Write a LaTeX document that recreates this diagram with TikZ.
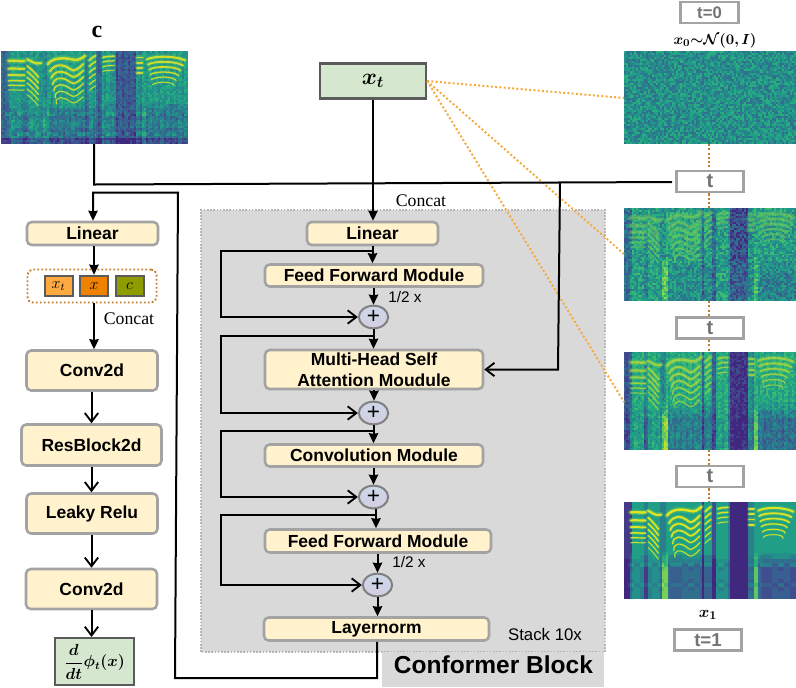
\documentclass[tikz,border=0pt]{standalone}
\usepackage{amsmath,bm}
\usepackage{fontspec}
\setmainfont{Liberation Sans}
\newfontfamily\serifcat{Liberation Serif}
\usetikzlibrary{arrows.meta,shapes.geometric,calc}
% palette
\definecolor{pal0}{HTML}{40287F}\definecolor{pal1}{HTML}{443A88}\definecolor{pal2}{HTML}{3E4E8F}\definecolor{pal3}{HTML}{375F8F}
\definecolor{pal4}{HTML}{30708E}\definecolor{pal5}{HTML}{2A7F8D}\definecolor{pal6}{HTML}{24908C}\definecolor{pal7}{HTML}{209F86}
\definecolor{pal8}{HTML}{28AE7E}\definecolor{pal9}{HTML}{3DBB70}\definecolor{pal10}{HTML}{5AC864}\definecolor{pal11}{HTML}{7AD151}
\definecolor{pal12}{HTML}{9BD93C}\definecolor{pal13}{HTML}{BDDF26}\definecolor{pal14}{HTML}{DDE318}\definecolor{pal15}{HTML}{F0E51C}
\definecolor{boxfill}{HTML}{FFF2CC}\definecolor{boxedge}{HTML}{A3A3A3}\definecolor{greenfill}{HTML}{D5E8CF}\definecolor{darkedge}{HTML}{5B5B5B}
\definecolor{panel}{HTML}{D9D9D9}\definecolor{orangedot}{HTML}{F7A93E}\definecolor{browndot}{HTML}{C27C2A}
\definecolor{harmY}{HTML}{E9E51E}
\definecolor{sbA}{HTML}{FFAA40}\definecolor{sbB}{HTML}{EF8200}\definecolor{sbC}{HTML}{8F9C00}
\definecolor{plusT}{HTML}{CBD8E8}\definecolor{plusB}{HTML}{D5CDE2}
\newdimen\sgx\newdimen\sgy\newdimen\sgw\newdimen\sgh
\newcount\sgv\newcount\sgt\newcount\sglv
\def\band#1#2{((\uu>#1)*(\uu<#2))}
\def\featU{(-4*\band{0}{0.045}-2*\band{0.12}{0.14}-2*\band{0.215}{0.25}-6*\band{0.452}{0.462}-5*\band{0.51}{0.54}-6*\band{0.615}{0.725}+2*\band{0.045}{0.6}+2*\band{0.75}{1.01})}
\def\featL{(-4*\band{0}{0.04}+2*\band{0.045}{0.12}-2*\band{0.12}{0.14}+2*\band{0.14}{0.215}+7*\band{0.225}{0.255}-5*\band{0.452}{0.462}-5*\band{0.51}{0.54}-6*\band{0.615}{0.725}+6*\band{0.75}{0.78}-1*\band{0.8}{1.01}+2*\band{0.54}{0.61})}
% parameters: \sB base, \sCU \sCL contrast %, \sN noise, \sM mottle %, \sBot permille, \sO harmonic opacity
\newcommand{\specgram}[4]{%
 \begin{scope}
 \clip (#1,#2) rectangle ++(#3,#4);
 \pgfmathtruncatemacro\nx{round(#3/2)}\pgfmathtruncatemacro\ny{round(#4/2)}
 \pgfmathtruncatemacro\nxm{\nx-1}\pgfmathtruncatemacro\nym{\ny-1}
 \pgfmathsetlength\sgx{#1*0.75pt}\pgfmathsetlength\sgy{#2*0.75pt}
 \pgfmathsetlength\sgw{#3*0.75pt/\nx}\pgfmathsetlength\sgh{#4*0.75pt/\ny}
 \foreach \i in {0,...,\nxm}{%
  \pgfmathsetmacro\uu{(\i+0.5)/\nx}%
  \pgfmathtruncatemacro\fU{round(\sCU*\featU)}%
  \pgfmathtruncatemacro\fL{round(\sCL*\featL)}%
  \edef\cs{\the\numexpr(\i*\i*7+\i*13)\relax}%
  \edef\cs{\the\numexpr\cs-3*(\cs/3)-1\relax}%
  \foreach \j in {0,...,\nym}{%
   \pgfmathrandominteger\rr{-\sN}{\sN}%
   \sgv=\numexpr1000*(2*\j+1)/(2*\ny)\relax
   \sgt=\numexpr(\sgv-500)/2\relax
   \ifnum\sgt<0 \sgt=0 \fi\ifnum\sgt>100 \sgt=100 \fi
   \sglv=\numexpr\sB+(\fU*(100-\sgt)+\fL*\sgt)/10000+\rr+\cs*\sM/100\relax
   \edef\pa{\the\numexpr\i/3\relax}\edef\pb{\the\numexpr\j/2\relax}%
   \edef\aa{\the\numexpr\pa*\pa*11+\pb*\pb*7+\pa*\pb*5+\pa*3+\pb\relax}%
   \advance\sglv by \numexpr(\aa-5*(\aa/5)-2)*\sM*\sgt/10000\relax
   \ifnum\sgv>\sBot \advance\sglv by -3 \fi
   \ifnum\sglv<0 \sglv=0 \fi\ifnum\sglv>15 \sglv=15 \fi
   \pgfsetfillcolor{pal\the\sglv}%
   \pgfpathrectanglecorners{\pgfqpoint{\dimexpr\sgx+\i\sgw\relax}{\dimexpr-\sgy-\j\sgh\relax}}{\pgfqpoint{\dimexpr\sgx+\i\sgw+\sgw+0.3pt\relax}{\dimexpr-\sgy-\j\sgh-\sgh-0.3pt\relax}}%
   \pgfusepath{fill}%
  }%
 }%
 \ifnum\sO>0
 \begin{scope}[shift={(#1,#2)},x=#3*0.75pt,y=-#4*0.75pt,line cap=round,line join=round]
  \begin{scope}[opacity=0.45,color=pal10]\def\hk{1.9}\harmonics\end{scope}
  \begin{scope}[opacity=0.\sO,color=harmY]\def\hk{0.85}\harmonics\end{scope}
 \end{scope}
 \fi
 \end{scope}}
\newcommand{\harmonics}{%
  % group A
  \foreach \v/\w in {0.107/2.2,0.19/1.9,0.26/1.7,0.32/1.3,0.37/1.0,0.42/0.7}{%
    \draw[line width=\hk*\w pt] (0.04,\v) .. controls (0.07,\v-0.008) and (0.1,\v+0.006) .. (0.125,\v);}
  % group B
  \draw[line width=\hk*2pt] (0.14,0.09) .. controls (0.16,0.1) and (0.18,0.15) .. (0.215,0.13);
  \foreach \k/\w in {0/1.5,1/1.3,2/1.2,3/1.0,4/0.8,5/0.6}{%
    \pgfmathsetmacro\a{0.16+0.062*\k}
    \draw[line width=\hk*\w pt] (0.14,\a) .. controls (0.16,\a+0.03) and (0.18,\a+0.07) .. (0.2,\a+0.12);}
  % group C
  \draw[line width=\hk*2.2pt] (0.25,0.14) .. controls (0.28,0.07) and (0.33,0.07) .. (0.38,0.09) .. controls (0.41,0.11) and (0.43,0.08) .. (0.45,0.05);
  \foreach \k/\w in {1/1.8,2/1.6,3/1.4,4/1.1,5/0.9,6/0.7}{%
    \pgfmathsetmacro\a{0.08+0.07*\k}
    \pgfmathsetmacro\l{0.255+0.007*\k}
    \draw[line width=\hk*\w pt] (\l,\a+0.07) .. controls (0.285,\a-0.01) and (0.33,\a-0.02) .. (0.375,\a+0.05) .. controls (0.39,\a+0.08) and (0.42,\a+0.03) .. (0.44,\a-0.01);}
  % group D
  \foreach \k/\w in {0/1.6,1/1.4,2/1.2,3/1,4/0.9,5/0.7}{%
    \pgfmathsetmacro\a{0.1+0.065*\k}
    \draw[line width=\hk*\w pt] (0.472,\a) .. controls (0.48,\a-0.02) and (0.49,\a-0.03) .. (0.505,\a-0.05);}
  \foreach \k/\w in {0/1.4,1/1.1,2/0.9,3/0.7}{%
    \pgfmathsetmacro\a{0.07+0.05*\k}
    \draw[line width=\hk*\w pt] (0.545,\a) .. controls (0.56,\a-0.015) and (0.58,\a-0.01) .. (0.605,\a-0.015);}
  % group E
  \foreach \k in {0,1,2,3}{%
    \pgfmathsetmacro\a{0.07+0.055*\k}
    \draw[line width=\hk*1.7pt] (0.728,\a) -- (0.755,\a);}
  \foreach \k/\w in {0/1.8,1/1.6,2/1.4,3/1.1,4/0.9,5/0.7}{%
    \pgfmathsetmacro\a{0.055*\k}
    \pgfmathsetmacro\l{0.78+0.006*\k}
    \pgfmathsetmacro\r{0.985-0.012*\k}
    \draw[line width=\hk*\w pt] (\l,0.09+\a) .. controls (0.82,0.05+\a) and (0.93,0.05+\a) .. (\r,0.1+\a);}
}
\tikzset{
 boxnode/.style={draw=boxedge,line width=1.9pt,fill=boxfill,rounded corners=3.5pt,inner sep=0pt,align=center,font=\fontsize{13.1}{15.5}\selectfont\bfseries},
 sz/.style 2 args={minimum width=#1*0.75pt,minimum height=#2*0.75pt},
 greennode/.style={draw=darkedge,line width=1.6pt,fill=greenfill,inner sep=0pt},
 smallbox/.style={draw=darkedge,line width=1.5pt,inner sep=0pt,minimum width=21pt,minimum height=15.5pt,font=\fontsize{11.5}{12}\selectfont},
 plusnode/.style={ellipse,draw=gray,line width=1.5pt,top color=plusT,bottom color=plusB,inner sep=0pt,minimum width=22pt,minimum height=17pt,font=\fontsize{17}{17}\selectfont},
 tnode/.style={draw=boxedge,line width=2.2pt,fill=white,inner sep=0pt,text=black!55,font=\bfseries},
 conn/.style={line width=1.5pt,black},
 arr/.style={conn,-{Stealth[length=7.5pt,width=7pt,inset=0.5pt]}},
 opn/.style={conn,-{Straight Barb[length=6.5pt,width=10pt,line width=1.4pt]}},
 odot/.style={orangedot,line width=1.5pt,dash pattern=on 1.5pt off 1.7pt},
 bdot/.style={browndot,line width=1.5pt,dash pattern=on 1.6pt off 1.6pt},
 txt/.style={inner sep=0pt},
}
\begin{document}
\begin{tikzpicture}[x=0.75pt,y=-0.75pt]
\useasboundingbox (0,0) rectangle (796,687);
\pgfmathsetseed{4242}
% panel
\fill[panel] (201,210) rectangle (605,652);
\draw[boxedge!80,line width=1pt,dash pattern=on 1.2pt off 1.2pt] (201,652) -- (201,210) -- (605,210) -- (605,652) -- cycle;
\fill[panel] (382,652) rectangle (604,687);
% spectrograms
\def\sB{6}\def\sCU{55}\def\sCL{30}\def\sN{1}\def\sM{40}\def\sBot{935}\def\sO{85}
\specgram{1}{51}{187}{93}
\def\sB{6}\def\sCU{0}\def\sCL{0}\def\sN{2}\def\sM{0}\def\sBot{1001}\def\sO{0}
\specgram{624}{51}{172}{93}
\def\sB{6}\def\sCU{60}\def\sCL{55}\def\sN{2}\def\sM{0}\def\sBot{1001}\def\sO{18}
\specgram{624}{208}{172}{93}
\def\sB{6}\def\sCU{85}\def\sCL{85}\def\sN{1}\def\sM{30}\def\sBot{1001}\def\sO{55}
\specgram{624}{352}{172}{98}
\def\sB{6}\def\sCU{100}\def\sCL{100}\def\sN{0}\def\sM{60}\def\sBot{1001}\def\sO{95}
\specgram{624}{502}{172}{97}
% text labels
\node[txt,font=\fontsize{18}{18}\selectfont\serifcat\bfseries] (clab) at (97,32) {c};
\node[txt,font=\fontsize{10.8}{12}\selectfont] (x0lab) at (715,41) {$\bm{x_0{\sim}\mathcal{N}(0,I)}$};
\node[txt,font=\fontsize{12.5}{12}\selectfont] (x1lab) at (708,615) {$\bm{x_1}$};
% left column
\node[boxnode,sz={131}{23}] (llin) at (92.5,233.5) {Linear};
\node[draw=browndot,line width=1.4pt,dash pattern=on 1.4pt off 1.6pt,rounded corners=4pt,sz={129}{33}] (dots) at (92,286) {};
\node[smallbox,fill=sbA] (sxt) at (58.5,286) {$x_t$};
\node[smallbox,fill=sbB] (sx) at (94,286) {$x$};
\node[smallbox,fill=sbC] (sc) at (129.5,286) {$c$};
\node[boxnode,sz={131}{40}] (conva) at (92,370.5) {Conv2d};
\node[boxnode,sz={140}{41}] (res) at (91.5,445) {ResBlock2d};
\node[boxnode,sz={131}{40}] (leaky) at (92,513.5) {Leaky Relu};
\node[boxnode,sz={131}{40}] (convb) at (91.5,589) {Conv2d};
\node[greennode,sz={79}{47},font=\fontsize{11.5}{14}\selectfont] (out) at (94.5,661.5) {$\bm{\dfrac{d}{dt}\phi_t(x)}$};
\node[txt,font=\fontsize{13.3}{14}\selectfont\serifcat] (cc1) at (129,319) {Concat};
% centre column
\node[greennode,sz={106}{35},font=\fontsize{17}{18}\selectfont] (xt) at (373,81) {$\bm{x_t}$};
\node[txt,font=\fontsize{13.3}{14}\selectfont\serifcat] (cc2) at (421,201) {Concat};
\node[boxnode,sz={131}{23}] (lin) at (372.5,233.5) {Linear};
\node[boxnode,sz={218}{22}] (ff1) at (374,275.5) {Feed Forward Module};
\node[plusnode] (p1) at (373.5,317) {+};
\node[boxnode,sz={218}{39}] (mhsa) at (374,369.5) {Multi-Head Self\\Attention Moudule};
\node[plusnode] (p2) at (373.5,413) {+};
\node[boxnode,sz={218}{22}] (cm) at (374,455.5) {Convolution Module};
\node[plusnode] (p3) at (373.5,497) {+};
\node[boxnode,sz={226}{23}] (ff2) at (378,541) {Feed Forward Module};
\node[plusnode] (p4) at (377.5,585) {+};
\node[boxnode,sz={225}{23}] (ln) at (376.5,629) {Layernorm};
\node[txt,font=\fontsize{11.5}{12}\selectfont] (h1) at (405,297) {1/2 x};
\node[txt,font=\fontsize{11.5}{12}\selectfont] (h2) at (409,562) {1/2 x};
\node[txt,font=\fontsize{12.6}{12}\selectfont] (stk) at (545,634) {Stack 10x};
\node[txt,font=\fontsize{18.4}{18}\selectfont\bfseries] (cb) at (493.5,664.5) {Conformer Block};
% t boxes
\node[tnode,sz={58}{21},font=\fontsize{12.5}{14}\selectfont\bfseries] (t0) at (709.5,12.5) {t=0};
\node[tnode,sz={67}{21},font=\fontsize{15}{15}\selectfont\bfseries] (ta) at (710,181.5) {t};
\node[tnode,sz={67}{21},font=\fontsize{15}{15}\selectfont\bfseries] (tb) at (710,328) {t};
\node[tnode,sz={67}{21},font=\fontsize{15}{15}\selectfont\bfseries] (tc) at (710,476.5) {t};
\node[tnode,sz={67}{21},font=\fontsize{14}{14}\selectfont\bfseries] (t1) at (708,640) {t=1};
% named image anchors
\coordinate (imgc) at (94,144);
\coordinate (img0w) at (624,98);
\coordinate (img1w) at (624,254);
\coordinate (img2w) at (624,402);
\coordinate (i0s) at (709,144);\coordinate (i1n) at (709,208);\coordinate (i1s) at (709,301);
\coordinate (i2n) at (709,352);\coordinate (i2s) at (709,450);\coordinate (i3n) at (709,502);
% dotted links
\draw[odot] (xt.east) -- (img0w);
\draw[odot] (xt.east) -- (img1w);
\draw[odot] (xt.east) -- (img2w);
\draw[bdot] (i0s) -- (i0s |- ta.north);
\draw[bdot] (i1n |- ta.south) -- (i1n);
\draw[bdot] (i1s) -- (i1s |- tb.north);
\draw[bdot] (i2n |- tb.south) -- (i2n);
\draw[bdot] (i2s) -- (i2s |- tc.north);
\draw[bdot] (i3n |- tc.south) -- (i3n);
% t conditioning line
\coordinate (cbend) at (94,184.5);
\coordinate (tend) at (672,182);
\coordinate (tbr) at (560,183);
\coordinate (tbrb) at (558,369.5);
\draw[conn] (imgc) -- (cbend) -- (tend);
\draw[opn] (tbr) -- (tbrb) -- (mhsa.east);
% left column connectors
\coordinate (b1) at (377,678);\coordinate (b2) at (175,678);\coordinate (b3) at (178,192.5);\coordinate (b4) at (93,192.5);
\draw[arr] (ln.south -| b1) -- (b1) -- (b2) -- (b3) -- (b4) -- (b4 |- llin.north);
\draw[arr] (llin.south -| sx) -- (sx.north);
\draw[arr] (dots.south -| sx) -- (conva.north -| sx);
\draw[opn] (conva.south -| res) -- (res.north);
\draw[opn] (res.south) -- (leaky.north -| res);
\draw[opn] (leaky.south -| res) -- (convb.north -| res);
\draw[opn] (convb.south) -- (convb.south |- out.north);
% centre connectors
\draw[arr] (xt.south) -- (lin.north -| xt);
\draw[arr] (lin.south) -- (ff1.north -| lin);
\draw[arr] (ff1.south -| p1) -- (p1.north);
\draw[arr] (p1.south) -- (mhsa.north -| p1);
\draw[arr] (mhsa.south) -- (p2.north -| mhsa);
\draw[arr] (p2.south) -- (cm.north -| p2);
\draw[arr] (cm.south -| p3) -- (p3.north);
\coordinate (j4) at (376,515);
\draw[arr] (j4 |- p3.south) -- (j4 |- ff2.north);
\draw[arr] (ff2.south -| p4) -- (p4.north);
\draw[arr] (p4.south) -- (ln.north -| p4);
% skips
\coordinate (sk) at (221,0);
\coordinate (j1) at (373,251);\coordinate (j2) at (373.5,336);\coordinate (j3) at (373.5,431);
\draw[opn] (j1) -- (sk |- j1) -- (sk |- p1.west) -- (p1.west);
\draw[opn] (j2) -- (sk |- j2) -- (sk |- p2.west) -- (p2.west);
\draw[opn] (j3) -- (sk |- j3) -- (sk |- p3.west) -- (p3.west);
\draw[opn] (j4) -- (sk |- j4) -- (sk |- p4.west) -- (p4.west);
\end{tikzpicture}
\end{document}
